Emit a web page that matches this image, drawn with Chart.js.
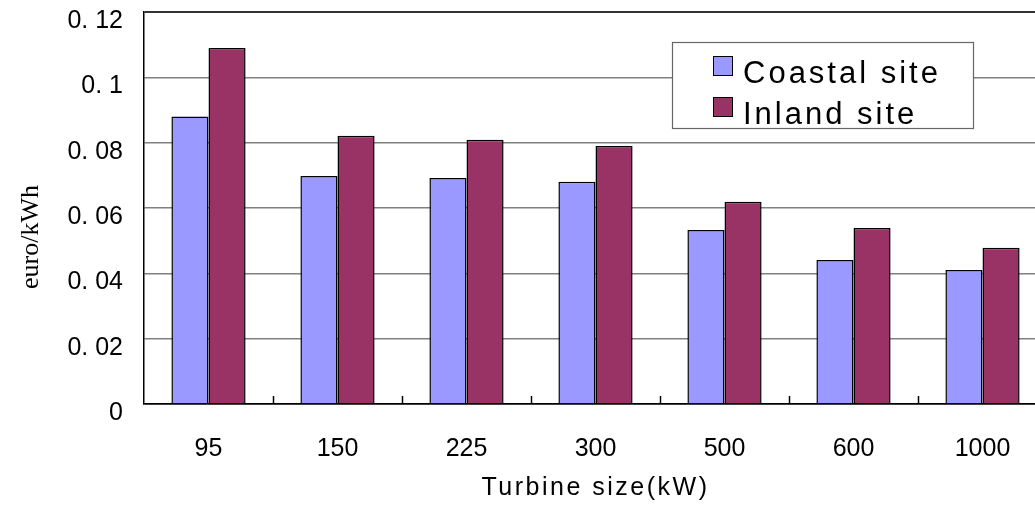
<!DOCTYPE html>
<html>
<head>
<meta charset="utf-8">
<script src="https://cdn.jsdelivr.net/npm/chart.js@4/dist/chart.umd.min.js"></script>
<style>
html,body{margin:0;padding:0;overflow:hidden;background:#fff;}
canvas{display:block;}
</style>
</head>
<body>
<canvas id="c" width="1050" height="506"></canvas>
<script>
const categories = ['95', '150', '225', '300', '500', '600', '1000'];
const coastalSite = [0.088, 0.0698, 0.0692, 0.068, 0.0533, 0.0441, 0.041];
const inlandSite = [0.109, 0.0821, 0.0809, 0.079, 0.0619, 0.0539, 0.0478];
const yTickLabels = ['0', '0. 02', '0. 04', '0. 06', '0. 08', '0. 1', '0. 12'];
const seriesNames = ['Coastal site', 'Inland site'];
const xTitle = 'Turbine size(kW)';
const yTitle = 'euro/kWh';

const extras = {
  id: 'extras',
  afterDatasetsDraw(chart) {
    const ctx = chart.ctx, x = chart.scales.x, a = chart.chartArea;
    const step = x.getPixelForValue(1) - x.getPixelForValue(0);
    ctx.save();
    ctx.strokeStyle = '#000';
    ctx.lineWidth = 1.5;
    for (let k = 1; k < categories.length; k++) {
      const px = Math.round(x.getPixelForValue(k) - step / 2) + 0.5;
      ctx.beginPath();
      ctx.moveTo(px, a.bottom);
      ctx.lineTo(px, a.bottom - 8);
      ctx.stroke();
    }
    ctx.restore();
  },
  afterDraw(chart) {
    const ctx = chart.ctx, a = chart.chartArea;
    ctx.save();
    ctx.fillStyle = '#000';
    ctx.font = '25px "Liberation Sans", Arial, sans-serif';
    ctx.textAlign = 'center';
    ctx.textBaseline = 'middle';
    ctx.letterSpacing = '2.5px';
    ctx.fillText(xTitle, (a.left + a.right) / 2, 488);
    ctx.letterSpacing = '0px';
    ctx.font = '26px "Liberation Serif", "Times New Roman", serif';
    ctx.translate(31, 237);
    ctx.rotate(-Math.PI / 2);
    ctx.fillText(yTitle, 0, 0);
    ctx.restore();

    ctx.save();
    const lx = 672, ly = 42, lw = 301, lh = 86;
    ctx.fillStyle = '#fff';
    ctx.fillRect(lx, ly, lw, lh);
    ctx.strokeStyle = '#666';
    ctx.lineWidth = 1.2;
    ctx.strokeRect(lx + 0.5, ly + 0.5, lw, lh);
    ctx.font = '31px "Liberation Sans", Arial, sans-serif';
    ctx.textAlign = 'left';
    ctx.textBaseline = 'alphabetic';
    ctx.letterSpacing = '3px';
    chart.data.datasets.forEach((ds, i) => {
      const sy = 56 + i * 41;
      ctx.fillStyle = ds.backgroundColor;
      ctx.fillRect(713, sy, 19, 19);
      ctx.strokeStyle = '#000';
      ctx.lineWidth = 1;
      ctx.strokeRect(713.5, sy + 0.5, 19, 19);
      ctx.fillStyle = '#000';
      ctx.fillText(ds.label, 743, 83 + i * 41);
    });
    ctx.restore();
  }
};

new Chart(document.getElementById('c'), {
  type: 'bar',
  data: {
    labels: categories,
    datasets: [
      { label: seriesNames[0], data: coastalSite, backgroundColor: '#9999FF', borderColor: '#000', borderWidth: 1.5 },
      { label: seriesNames[1], data: inlandSite, backgroundColor: '#993366', borderColor: '#000', borderWidth: 1.5 }
    ]
  },
  options: {
    responsive: false,
    animation: false,
    events: [],
    layout: { padding: { top: 12, right: 3, left: 0, bottom: 0 } },
    datasets: { bar: { categoryPercentage: 0.575, barPercentage: 1.0 } },
    plugins: { legend: { display: false }, tooltip: { enabled: false }, title: { display: false } },
    scales: {
      x: {
        grid: { display: false, drawTicks: false },
        border: { display: true, color: '#000', width: 1.5 },
        ticks: { color: '#000', font: { family: '"Liberation Sans", Arial, sans-serif', size: 25 }, padding: 30, maxRotation: 0, autoSkip: false },
        afterFit(s) { s.height = 102; s.paddingLeft = 0; s.paddingRight = 0; }
      },
      y: {
        min: 0, max: 0.12,
        grid: {
          drawTicks: false,
          color: c => (c.tick && Math.abs(c.tick.value - 0.12) < 1e-9) ? '#333' : (c.tick && c.tick.value === 0 ? '#000' : '#808080'),
          lineWidth: c => (c.tick && Math.abs(c.tick.value - 0.12) < 1e-9) ? 2 : 1.5
        },
        border: { display: true, color: '#000', width: 1.5 },
        ticks: {
          stepSize: 0.02,
          color: '#000',
          padding: 21,
          labelOffset: 9,
          font: { family: '"Liberation Sans", Arial, sans-serif', size: 25 },
          callback: (v, i) => yTickLabels[i]
        },
        afterFit(s) { s.width = 144; s.paddingTop = 0; s.paddingBottom = 0; }
      }
    }
  },
  plugins: [extras]
});
</script>
</body>
</html>
